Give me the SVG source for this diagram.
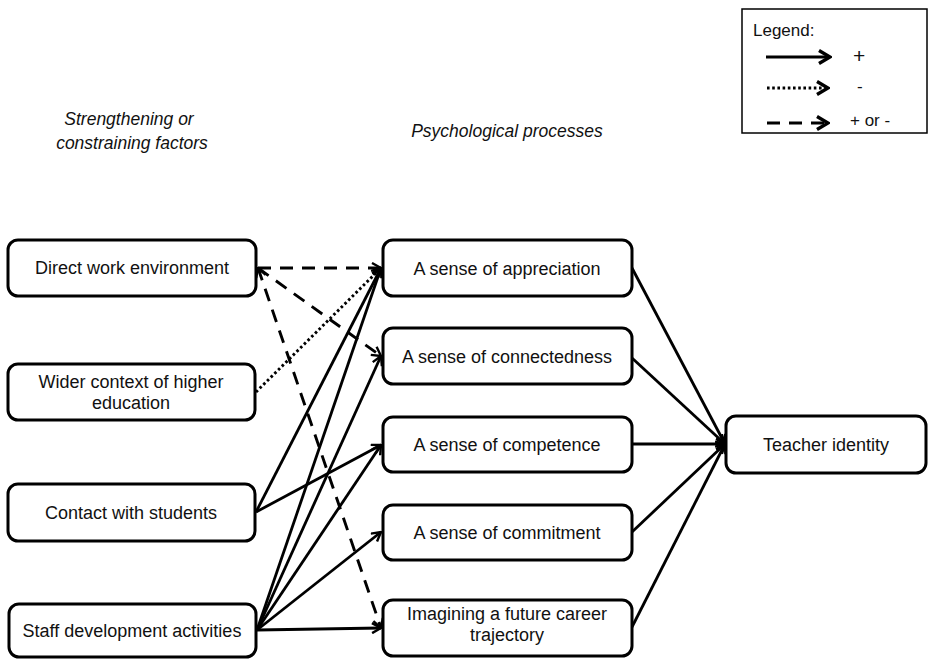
<svg xmlns="http://www.w3.org/2000/svg" width="928" height="659" viewBox="0 0 928 659">
<style>
.box{fill:#fff;stroke:#000;stroke-width:3}
.t{font-family:"Liberation Sans",Arial,sans-serif;font-size:18px;fill:#111;text-anchor:middle}
.ti{font-family:"Liberation Sans",Arial,sans-serif;font-size:17.5px;font-style:italic;fill:#111;text-anchor:middle}
.lt{font-family:"Liberation Sans",Arial,sans-serif;font-size:17px;fill:#111}
.lp{font-family:"Liberation Sans",Arial,sans-serif;font-size:21px;fill:#111}
.solid{fill:none;stroke:#000;stroke-width:2.8}
.dash{fill:none;stroke:#000;stroke-width:2.9;stroke-dasharray:13 9}
.dot{fill:none;stroke:#000;stroke-width:2.9;stroke-dasharray:2.6 2.6}
</style>
<defs>
<marker id="ah" viewBox="0 0 12 12" refX="11" refY="6" markerWidth="12" markerHeight="12" markerUnits="userSpaceOnUse" orient="auto-start-reverse">
<polyline points="2,1 11,6 2,11" fill="none" stroke="#000" stroke-width="2.4"/>
</marker>
<marker id="ahl" viewBox="0 0 16 16" refX="14" refY="8" markerWidth="16" markerHeight="16" markerUnits="userSpaceOnUse" orient="auto">
<polyline points="3,1.5 14,8 3,14.5" fill="none" stroke="#000" stroke-width="3.4"/>
</marker>
</defs>
<rect width="928" height="659" fill="#fff"/>

<text class="ti" x="129" y="125">Strengthening or</text>
<text class="ti" x="132" y="149">constraining factors</text>
<text class="ti" x="507" y="137">Psychological processes</text>

<g id="legend">
<rect x="742" y="9" width="185" height="124" fill="#fff" stroke="#000" stroke-width="1.5"/>
<text class="lt" x="753" y="36">Legend:</text>
<line x1="766" y1="57" x2="830" y2="57" class="solid" stroke-width="3.4" marker-end="url(#ahl)"/>
<line x1="767" y1="88" x2="828" y2="88" class="dot" stroke-width="3" stroke-dasharray="3 2.5" marker-end="url(#ahl)"/>
<line x1="767" y1="123" x2="828" y2="123" class="dash" stroke-width="3.6" stroke-dasharray="13 8" marker-end="url(#ahl)"/>
<text class="lp" x="853" y="63">+</text>
<text class="lt" x="857" y="92">-</text>
<text class="lt" x="850" y="126">+ or -</text>
</g>

<g id="connectors">
<line x1="258" y1="268" x2="381" y2="268" class="dash" marker-end="url(#ah)"/>
<line x1="258" y1="268" x2="381" y2="356" class="dash" marker-end="url(#ah)"/>
<line x1="258" y1="268" x2="381" y2="628" class="dash" marker-start="url(#ah)" marker-end="url(#ah)"/>
<line x1="256" y1="392" x2="381" y2="268" class="dot" marker-end="url(#ah)"/>
<line x1="256" y1="512" x2="381" y2="268" class="solid" marker-end="url(#ah)"/>
<line x1="256" y1="512" x2="381" y2="445" class="solid" marker-end="url(#ah)"/>
<line x1="257" y1="630" x2="381" y2="268" class="solid" marker-end="url(#ah)"/>
<line x1="257" y1="630" x2="381" y2="356" class="solid" marker-end="url(#ah)"/>
<line x1="257" y1="630" x2="381" y2="445" class="solid" marker-end="url(#ah)"/>
<line x1="257" y1="630" x2="381" y2="532" class="solid" marker-end="url(#ah)"/>
<line x1="257" y1="630" x2="381" y2="628" class="solid" marker-end="url(#ah)"/>
<line x1="632" y1="268" x2="725" y2="444" class="solid" marker-end="url(#ah)"/>
<line x1="632" y1="358" x2="725" y2="444" class="solid" marker-end="url(#ah)"/>
<line x1="632" y1="444" x2="725" y2="444" class="solid" marker-end="url(#ah)"/>
<line x1="632" y1="532" x2="725" y2="444" class="solid" marker-end="url(#ah)"/>
<line x1="632" y1="627" x2="725" y2="444" class="solid" marker-end="url(#ah)"/>
</g>

<g id="n-direct"><rect class="box" x="8" y="240" width="248" height="56" rx="10"/><text class="t" x="132" y="274">Direct work environment</text></g>
<g id="n-wider"><rect class="box" x="8" y="364" width="247" height="56" rx="10"/><text class="t" x="131" y="388">Wider context of higher</text><text class="t" x="131" y="409">education</text></g>
<g id="n-contact"><rect class="box" x="8" y="484" width="247" height="57" rx="10"/><text class="t" x="131" y="519">Contact with students</text></g>
<g id="n-staff"><rect class="box" x="9" y="604" width="247" height="53" rx="10"/><text class="t" x="132" y="637">Staff development activities</text></g>

<g id="n-appreciation"><rect class="box" x="383" y="240" width="249" height="56" rx="10"/><text class="t" x="507" y="275">A sense of appreciation</text></g>
<g id="n-connectedness"><rect class="box" x="383" y="328" width="249" height="56" rx="10"/><text class="t" x="507" y="363">A sense of connectedness</text></g>
<g id="n-competence"><rect class="box" x="383" y="417" width="249" height="55" rx="10"/><text class="t" x="507" y="451">A sense of competence</text></g>
<g id="n-commitment"><rect class="box" x="383" y="505" width="249" height="55" rx="10"/><text class="t" x="507" y="539">A sense of commitment</text></g>
<g id="n-imagining"><rect class="box" x="383" y="600" width="249" height="56" rx="10"/><text class="t" x="507" y="620">Imagining a future career</text><text class="t" x="507" y="641">trajectory</text></g>

<g id="n-teacher"><rect class="box" x="726" y="416" width="200" height="57" rx="10"/><text class="t" x="826" y="451">Teacher identity</text></g>
</svg>
